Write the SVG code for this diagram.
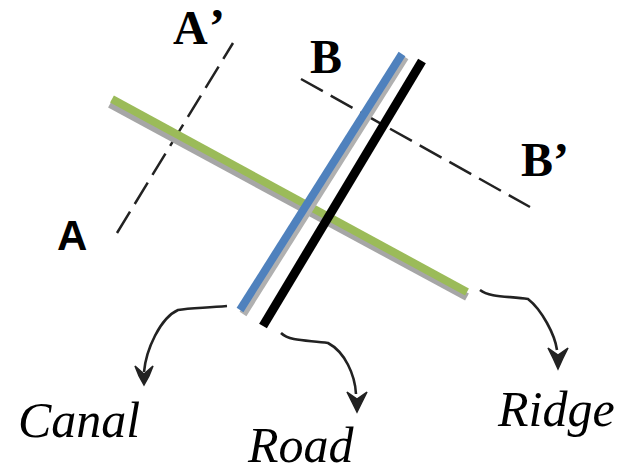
<svg xmlns="http://www.w3.org/2000/svg" width="623" height="474" viewBox="0 0 623 474">
<style>
.dash{fill:none;stroke:#222;stroke-width:2.5;stroke-dasharray:25 9}
.flow{fill:none;stroke:#222;stroke-width:2.6}
.head{fill:#222;stroke:#222;stroke-width:1.5;stroke-linejoin:miter}
.b{font-family:"Liberation Serif",serif;font-weight:bold;font-size:48px;fill:#000}
.s{font-family:"Liberation Sans",sans-serif;font-weight:bold;font-size:42px;fill:#000}
.i{font-family:"Liberation Serif",serif;font-style:italic;font-size:50px;fill:#000}
</style>
<rect width="623" height="474" fill="#fff"/>
<g id="connectors">
<path class="dash" d="M117 233L233 43"/>
<path class="dash" d="M301 79L530 207"/>
<path class="flow" d="M227 306C205 308 190 308 178 310C160 318 146 350 144 372"/>
<path class="head" d="M135 366L144 374L153 366L149 376L144 385L139 376Z"/>
<path class="flow" d="M281 333C290 342 310 340 328 343C345 352 355 375 356 394"/>
<path class="head" d="M347 392L357 399L367 392L362 402L357 412L352 402Z"/>
<path class="flow" d="M480 290C490 298 510 296 528 299C542 310 555 335 557 350"/>
<path class="head" d="M548 348L558 355L568 348L563 358L558 369L553 358Z"/>
</g>
<g id="ridge">
<path d="M110 104L467 297" stroke="#a6a6a6" stroke-width="8" fill="none"/>
<path d="M112 99L467 292" stroke="#9bbb59" stroke-width="8" fill="none"/>
</g>
<g id="canal">
<path d="M243 314L405 57" stroke="#b0b0b0" stroke-width="8" fill="none"/>
<path d="M240 310L402 54" stroke="#4f81bd" stroke-width="8" fill="none"/>
</g>
<g id="road">
<path d="M263 326L422 61" stroke="#000" stroke-width="9" fill="none"/>
</g>
<g id="labels">
<text class="b" x="173" y="44">A<tspan dx="5" dy="-2">’</tspan></text>
<text class="b" x="310" y="73">B</text>
<text class="b" x="521" y="176">B’</text>
<text class="s" x="57" y="250">A</text>
<text class="i" x="18" y="437">Canal</text>
<text class="i" x="248" y="462">Road</text>
<text class="i" x="498" y="426">Ridge</text>
</g>
</svg>
